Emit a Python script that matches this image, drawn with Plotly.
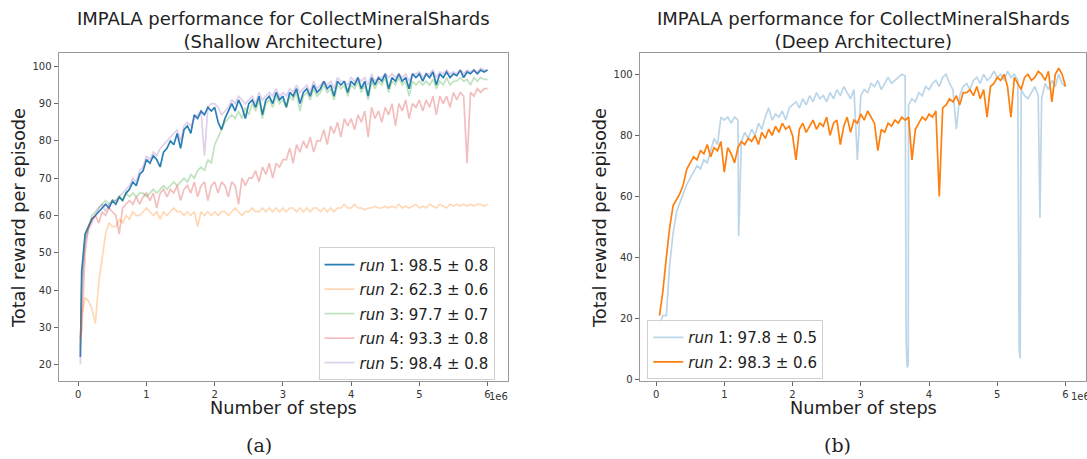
import plotly.graph_objects as go

# ---------------- data (steps in units of 1e6) ----------------
steps_a = [0.03] + [round(0.05 * k, 2) for k in range(1, 121)]

shallow_run1 = [22,
    45, 55, 57, 59, 60, 61, 62, 63, 62, 64,
    63, 65, 64, 66, 67, 69, 68, 71, 72, 75,
    74, 76, 75, 73, 77, 78, 80, 79, 82, 78,
    83, 84, 82, 87, 86, 88, 87, 89, 88, 89,
    85, 83, 86, 88, 90, 88, 91, 89, 86, 90,
    91, 89, 92, 87, 91, 92, 90, 93, 91, 92,
    89, 93, 92, 94, 90, 93, 94, 92, 95, 93,
    94, 96, 94, 95, 92, 96, 95, 96, 93, 96,
    95, 97, 94, 96, 92, 97, 95, 97, 96, 98,
    94, 97, 96, 98, 96, 97, 94, 98, 97, 98,
    96, 98, 97, 98.5, 95, 98, 97, 98.5, 97, 98,
    97.5, 99, 97, 98.5, 98, 99, 98, 99, 98.5, 99]

shallow_run2 = [27,
    33, 38, 37, 35, 31, 42, 48, 55, 58, 57,
    57, 59, 58, 60, 59, 61, 60, 60, 61, 62,
    61, 60, 61, 59, 61, 60, 61, 62, 61, 61,
    60, 61, 60, 61, 57, 61, 60, 61, 60, 61,
    60, 61, 61, 60, 61, 62, 61, 60, 61, 61,
    62, 61, 61, 62, 61, 62, 61, 62, 61, 62,
    61, 62, 62, 61, 62, 61, 62, 61, 62, 62,
    61, 62, 61, 62, 61, 62, 62, 63, 62, 62,
    63, 62, 62, 61.5, 62, 62, 62.5, 62, 62, 62.5,
    62, 62.5, 62, 63, 62, 62.5, 62, 62.5, 63, 62,
    62.5, 62, 63, 62.5, 62, 63, 62.5, 62, 63, 62.5,
    63, 62.5, 63, 62.5, 63, 62.5, 63, 63, 62.5, 63]

shallow_run3 = [24,
    40, 54, 57, 60, 61, 62, 63, 64, 63, 64,
    64, 65, 64, 66, 65, 66, 65, 66, 66, 65,
    66, 67, 66, 67, 68, 67, 68, 69, 68, 69,
    70, 69, 71, 70, 72, 73, 72, 75, 74, 79,
    81, 83, 85, 86, 87, 86, 88, 86, 89, 87,
    90, 88, 91, 86, 90, 91, 89, 92, 90, 91,
    89, 92, 91, 93, 88, 92, 93, 91, 94, 92,
    93, 95, 93, 94, 91, 95, 94, 95, 92, 95,
    94, 96, 93, 95, 91, 96, 94, 96, 95, 97,
    93, 96, 95, 97, 95, 96, 92, 96, 95, 96,
    95, 96, 95, 96.5, 94, 96, 95, 97, 95, 96,
    96, 97, 96, 96.5, 95, 97, 96, 97, 96.5, 96.5]

shallow_run4 = [27,
    29, 50, 57, 59, 60, 58, 61, 60, 62, 61,
    60, 55, 62, 63, 64, 63, 65, 63, 65, 66,
    64, 66, 62, 66, 67, 65, 67, 66, 68, 64,
    67, 68, 66, 69, 65, 68, 69, 64, 68, 69,
    66, 69, 68, 65, 69, 68, 63, 70, 68, 70,
    70, 72, 69, 73, 71, 74, 70, 74, 73, 75,
    75, 78, 74, 79, 77, 80, 78, 81, 77, 80,
    80, 83, 79, 84, 82, 85, 81, 86, 84, 86,
    83, 87, 85, 88, 81, 89, 86, 88, 85, 89,
    87, 90, 84, 90, 88, 91, 86, 90, 89, 91,
    88, 91, 89, 92, 87, 92, 90, 92, 89, 93,
    91, 93, 92, 74, 93, 92, 94, 93, 94, 94]

shallow_run5 = [20,
    42, 53, 56, 58, 60, 62, 63, 61, 63, 64,
    64, 65, 66, 67, 68, 70, 69, 72, 73, 76,
    75, 77, 76, 78, 79, 80, 81, 82, 83, 80,
    84, 85, 84, 86, 87, 88, 76, 89, 90, 90,
    89, 87, 88, 89, 91, 90, 92, 91, 90, 91,
    92, 90, 93, 91, 92, 93, 92, 94, 92, 93,
    92, 94, 93, 95, 93, 94, 95, 93, 96, 94,
    95, 96, 95, 96, 94, 97, 96, 96, 95, 97,
    96, 97, 96, 97, 95, 98, 96, 97, 97, 98,
    97, 98, 97, 98, 97, 98, 96, 98, 98, 98.5,
    97, 98, 98, 99, 97, 98.5, 98, 99, 98, 98.5,
    98, 99, 98, 99, 98.5, 99, 98.5, 99.5, 99, 99]

steps_b = [round(0.05 * k, 2) for k in range(1, 121)]

deep_run1 = [
    18, 21, 21, 38, 48, 55, 58, 61, 64, 66,
    68, 70, 69, 72, 71, 75, 79, 77, 86, 85,
    86, 84, 86, 85, 78, 81, 79, 82, 80, 84,
    82, 86, 89, 85, 87, 86, 88, 85, 89, 90,
    91, 89, 92, 90, 93, 91, 94, 92, 93, 91,
    94, 92, 95, 93, 96, 94, 92, 95, 72, 93,
    95, 94, 97, 96, 98, 95, 97, 99, 97, 98,
    99, 100, 99.5, 90, 92, 91, 94, 93, 96, 95,
    97, 98, 96, 99, 100, 97, 95, 82, 93, 96,
    97, 95, 98, 99, 97, 100, 98, 99, 101, 99,
    100, 98, 101, 99, 100, 98, 95, 93, 92, 94,
    96, 93, 92, 97, 95, 98, 96, 100, 97, 96]
deep_run1_drop_steps = [1.21, 3.665, 3.68, 3.695, 5.32, 5.335, 5.625]
deep_run1_drop_vals = [47, 12, 4, 5, 10, 7, 53]

deep_run2 = [
    21, 29, 40, 50, 57, 59, 61, 64, 69, 71,
    73, 72, 75, 74, 77, 73, 76, 75, 78, 68,
    76, 74, 71, 76, 78, 77, 79, 78, 80, 77,
    81, 79, 82, 80, 83, 81, 84, 82, 83, 80,
    72, 82, 84, 81, 83, 85, 82, 84, 83, 86,
    80, 84, 85, 77, 83, 86, 81, 85, 84, 87,
    85, 88, 86, 84, 75, 82, 81, 84, 83, 85,
    84, 86, 85, 86, 72, 82, 84, 86, 85, 87,
    86, 88, 60, 89, 90, 92, 91, 93, 90, 94,
    94, 95, 93, 96, 92, 95, 86, 96, 97, 99,
    98, 100, 96, 86, 99, 97, 95, 99, 100, 98,
    99, 101, 100, 98, 101, 91, 100, 102, 100, 96]

shallow_labels = ["<i>run</i> 1: 98.5 ± 0.8", "<i>run</i> 2: 62.3 ± 0.6",
                  "<i>run</i> 3: 97.7 ± 0.7", "<i>run</i> 4: 93.3 ± 0.8",
                  "<i>run</i> 5: 98.4 ± 0.8"]
deep_labels = ["<i>run</i> 1: 97.8 ± 0.5", "<i>run</i> 2: 98.3 ± 0.6"]
x_ticks = [0, 1, 2, 3, 4, 5, 6]
y_ticks_a = [20, 30, 40, 50, 60, 70, 80, 90, 100]
y_ticks_b = [0, 20, 40, 60, 80, 100]

# ---------------- styles ----------------
colors_a = ["rgba(31,119,180,0.95)", "rgba(255,127,14,0.3)", "rgba(44,160,44,0.3)",
            "rgba(214,39,40,0.3)", "rgba(148,103,189,0.3)"]
colors_b = ["rgba(31,119,180,0.3)", "rgba(255,127,14,1)"]
FONT = "DejaVu Sans"
LW = 1.7

fig = go.Figure()
shallow = [shallow_run1, shallow_run2, shallow_run3, shallow_run4, shallow_run5]
for i, vals in enumerate(shallow):
    fig.add_trace(go.Scatter(x=steps_a[:len(vals)], y=vals, mode="lines",
                             line=dict(color=colors_a[i], width=LW),
                             name=shallow_labels[i], legend="legend",
                             legendgroup="a%d" % i, xaxis="x", yaxis="y"))

pts = sorted(list(zip(steps_b, deep_run1)) + list(zip(deep_run1_drop_steps, deep_run1_drop_vals)))
fig.add_trace(go.Scatter(x=[p[0] for p in pts], y=[p[1] for p in pts], mode="lines",
                         line=dict(color=colors_b[0], width=LW), name=deep_labels[0],
                         legend="legend2", legendgroup="b0", xaxis="x2", yaxis="y2"))
fig.add_trace(go.Scatter(x=steps_b[:len(deep_run2)], y=deep_run2, mode="lines",
                         line=dict(color=colors_b[1], width=LW), name=deep_labels[1],
                         legend="legend2", legendgroup="b1", xaxis="x2", yaxis="y2"))

W, H = 1087, 459
def px(x):
    return x / W
def py(y):
    return (H - y) / H

axis_common = dict(showline=True, mirror=True, linecolor="#999999", linewidth=1,
                   ticks="outside", ticklen=4, tickcolor="#666666", tickwidth=1,
                   showgrid=False, zeroline=False,
                   tickfont=dict(family=FONT, size=10, color="#333333"))

legend_common = dict(font=dict(family=FONT, size=15, color="#222222"),
                     bgcolor="rgba(255,255,255,0.85)", bordercolor="#d0d0d0",
                     borderwidth=1, xanchor="left", yanchor="top",
                     tracegroupgap=2, itemwidth=30)

fig.update_layout(
    width=W, height=H, autosize=False,
    margin=dict(l=0, r=0, t=0, b=0),
    paper_bgcolor="white", plot_bgcolor="white",
    xaxis=dict(domain=[px(58.5), px(508)], range=[-0.29, 6.30], tickvals=x_ticks,
               anchor="y", **axis_common),
    yaxis=dict(domain=[py(384.3), py(53.4)], range=[15.6, 103.6], tickvals=y_ticks_a,
               anchor="x", **axis_common),
    xaxis2=dict(domain=[px(639.7), px(1086)], range=[-0.24, 6.30], tickvals=x_ticks,
                anchor="y2", **axis_common),
    yaxis2=dict(domain=[py(384.3), py(53.4)], range=[-0.4, 107], tickvals=y_ticks_b,
                anchor="x2", **axis_common),
    legend=dict(x=px(318.5), y=py(249.6), **legend_common),
    legend2=dict(x=px(647.3), y=py(323), **legend_common),
)

def ann(text, x, y, size, family=FONT, angle=0, xanchor="center", color="#222222"):
    fig.add_annotation(text=text, x=px(x), y=py(y), xref="paper", yref="paper",
                       showarrow=False, textangle=angle, xanchor=xanchor, yanchor="middle",
                       font=dict(family=family, size=size, color=color))

ann("IMPALA performance for CollectMineralShards<br>(Shallow Architecture)", 283, 30, 18)
ann("IMPALA performance for CollectMineralShards<br>(Deep Architecture)", 863, 30, 18)
ann("Number of steps", 283, 412, 17.7)
ann("Number of steps", 863, 412, 17.7)
ann("Total reward per episode", 18, 220, 17.8, angle=-90)
ann("Total reward per episode", 599, 220, 17.8, angle=-90)
ann("1e6", 498, 400, 10, color="#333333")
ann("1e6", 1069, 400, 10, xanchor="left", color="#333333")
ann("(a)", 259, 449, 19, family="DejaVu Serif")
ann("(b)", 837, 449, 19, family="DejaVu Serif")

fig.write_html("out.html", config={"displayModeBar": False},
               post_script="document.body.style.margin='0';document.body.style.overflow='hidden';")
